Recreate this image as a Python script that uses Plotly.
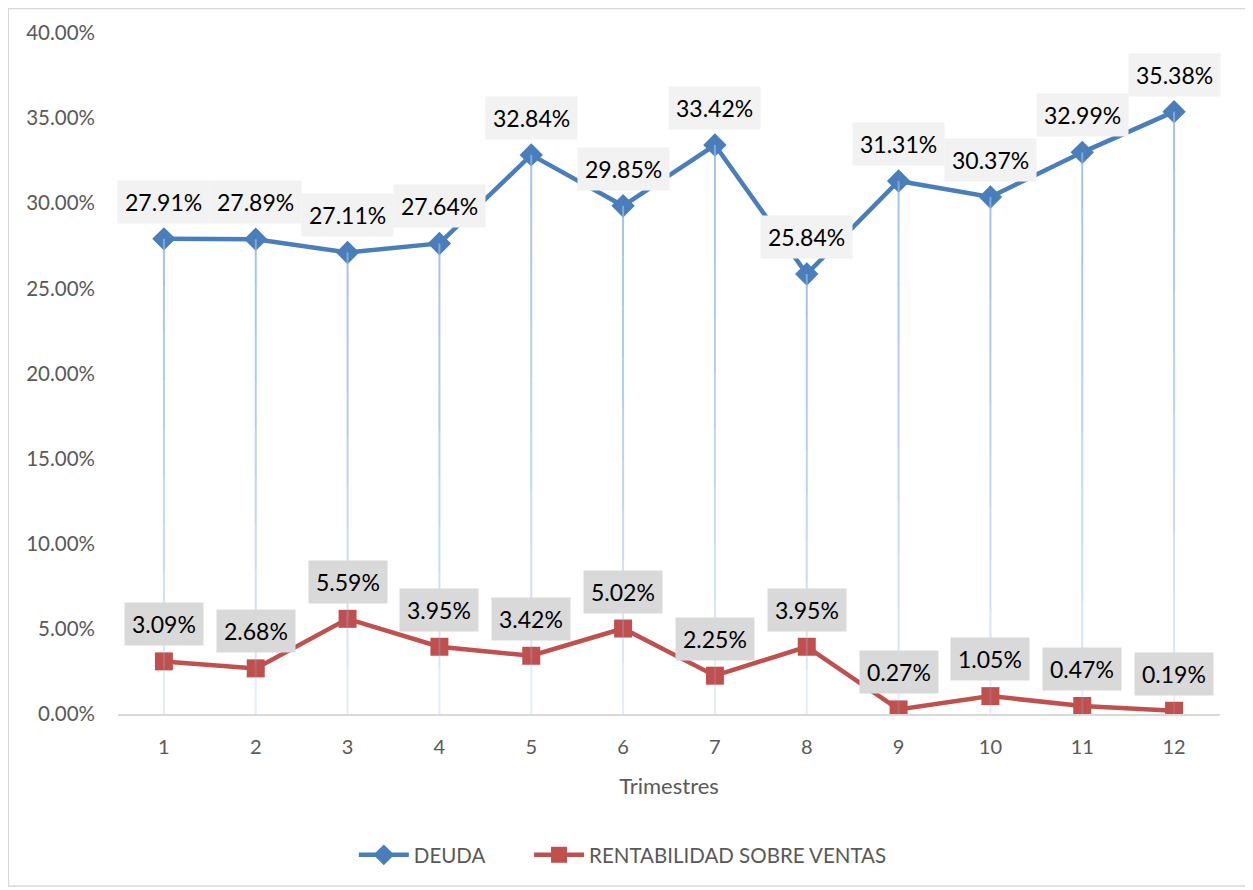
import plotly.graph_objects as go

trimestres = list(range(1, 13))
deuda = [27.91, 27.89, 27.11, 27.64, 32.84, 29.85, 33.42, 25.84, 31.31, 30.37, 32.99, 35.38]
rentabilidad = [3.09, 2.68, 5.59, 3.95, 3.42, 5.02, 2.25, 3.95, 0.27, 1.05, 0.47, 0.19]
y_ticks = [0, 5, 10, 15, 20, 25, 30, 35, 40]

BLUE = "#4a7ebb"
RED = "#c0504d"
GREY = "#595959"
FONT = "Lato"

fig = go.Figure()

fig.add_trace(go.Scatter(
    x=trimestres, y=deuda, name="DEUDA", mode="lines+markers",
    line=dict(color=BLUE, width=4.5),
    marker=dict(symbol="diamond", size=18, color=BLUE),
    legend="legend",
))
fig.add_trace(go.Scatter(
    x=trimestres, y=rentabilidad, name="RENTABILIDAD SOBRE VENTAS", mode="lines+markers",
    line=dict(color=RED, width=4.5),
    marker=dict(symbol="square", size=18, color=RED),
    legend="legend2",
))

# drop lines from DEUDA to the axis, fading towards the bottom
steps = 10
for k in range(steps):
    f0, f1 = k / steps, (k + 1) / steps
    xs, ys = [], []
    for cat, v in zip(trimestres, deuda):
        xs += [cat, cat, None]
        ys += [v * (1 - f0), v * (1 - f1), None]
    a = 0.75 * (1 - f0) ** 0.6 + 0.05
    fig.add_trace(go.Scatter(
        x=xs, y=ys, mode="lines", showlegend=False, hoverinfo="skip",
        line=dict(color=f"rgba(140,180,225,{a:.2f})", width=2),
    ))

for cat, v in zip(trimestres, deuda):
    fig.add_annotation(x=cat, y=v, text=f"{v:.2f}%", showarrow=False, yshift=37,
                       bgcolor="#f2f2f2", borderpad=7,
                       font=dict(family=FONT, size=23, color="black"))
for cat, v in zip(trimestres, rentabilidad):
    fig.add_annotation(x=cat, y=v, text=f"{v:.2f}%", showarrow=False, yshift=37,
                       bgcolor="#d9d9d9", borderpad=7,
                       font=dict(family=FONT, size=23, color="black"))

# outer chart border
fig.add_shape(type="rect", xref="paper", yref="paper",
              x0=-0.0995, x1=1.0263, y0=-0.2525, y1=1.0360,
              line=dict(color="#d9d9d9", width=1.5))

legend_style = dict(orientation="h", y=-0.207, yanchor="middle", xanchor="left",
                    font=dict(size=20.5, color=GREY), itemwidth=50)

fig.update_layout(
    width=1245, height=882,
    margin=dict(l=110, r=33, t=25, b=176),
    paper_bgcolor="white", plot_bgcolor="white",
    font=dict(family=FONT, color=GREY),
    legend=dict(x=0.214, **legend_style),
    legend2=dict(x=0.373, **legend_style),
    xaxis=dict(
        range=[0.5, 12.5], tickvals=trimestres,
        title=dict(text="Trimestres", font=dict(size=22, color=GREY), standoff=22),
        tickfont=dict(size=20, color=GREY), showgrid=False, ticks="",
        showline=True, linecolor="#d9d9d9", linewidth=1.5, zeroline=False,
        ticklabelstandoff=14,
    ),
    yaxis=dict(
        range=[0, 40], tickvals=y_ticks, ticktext=[f"{t:.2f}%" for t in y_ticks],
        tickfont=dict(size=20.5, color=GREY), showgrid=False, zeroline=False,
        ticks="", ticklabelstandoff=22,
    ),
)

fig.write_html("out.html")
